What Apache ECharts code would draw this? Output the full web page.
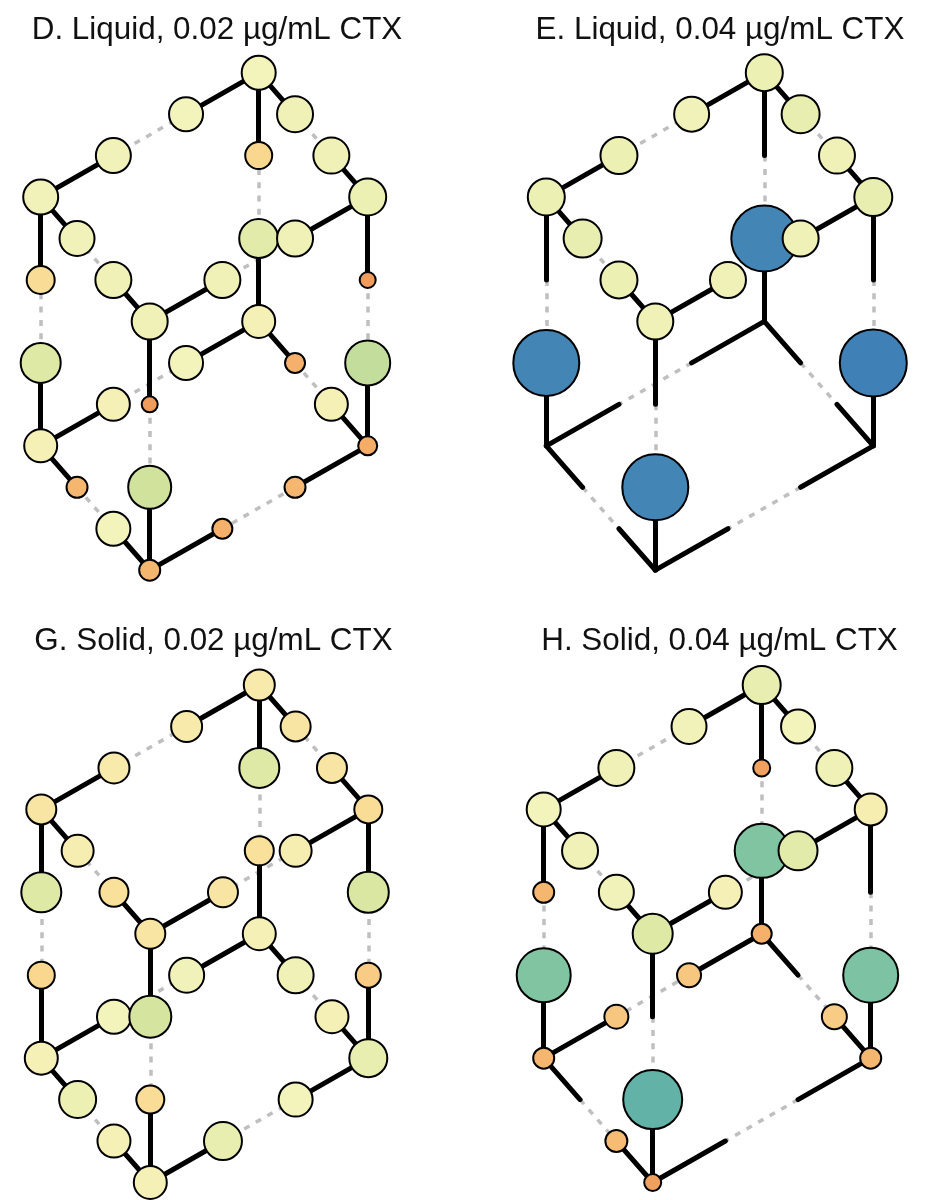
<!DOCTYPE html>
<html>
<head>
<meta charset="utf-8">
<style>
  html, body { margin: 0; padding: 0; background: #fff; }
  #chart { width: 933px; height: 1200px; }
</style>
<script src="https://cdn.jsdelivr.net/npm/echarts@6/dist/echarts.min.js"></script>
</head>
<body>
<div id="chart"></div>
<script>
// lattice position of the 32 genotypes, same for all four panels
var nodeCol = [6,4,7,6,2,8,0,9,1,6,7,0,2,5,9,3,6,0,4,7,9,2,3,8,0,9,1,3,7,2,5,3];
var nodeRow = [0,1,1,2,2,2,3,3,4,4,4,5,5,5,5,6,6,7,7,7,7,8,8,8,9,9,10,10,10,11,11,12];

// each cube edge runs through two genotypes: corner - a - b - corner
// the outer steps are solid, the middle one is dashed
var solidEdges = [
  [0,1],[4,6],[0,2],[5,7],[0,3],[9,16],[6,8],[12,15],[7,10],[13,15],
  [6,11],[17,24],[7,14],[20,25],[15,22],[27,31],[16,18],[21,24],
  [16,19],[23,25],[24,26],[29,31],[25,28],[30,31]
];
var dashedEdges = [
  [1,4],[2,5],[3,9],[8,12],[10,13],[11,17],[14,20],[22,27],
  [18,21],[19,23],[26,29],[28,30]
];

// fitness readings per genotype (same order as nodeCol), null = no growth
var fitnessD = [34,34,36,27,35,36,35,37,35,39,36,28,36,36,16,36,33,40,34,20,45,33,16,33,33,19,21,43,21,34,20,21];
var fitnessE = [37,35,38,null,37,36,37,38,38,66,36,null,37,36,null,36,null,66,null,null,67,null,null,null,null,null,null,66,null,null,null,null];
var fitnessG = [31,31,30,40,31,30,30,28,32,29,32,40,29,30,41,30,33,27,35,36,25,34,42,33,33,38,37,28,34,33,38,33];
var fitnessH = [38,35,34,17,36,36,34,32,36,54,39,21,35,33,null,40,20,54,24,null,55,24,null,25,21,21,null,59,null,22,null,17];

var panelTitles = ['D. Liquid, 0.02 µg/mL CTX','E. Liquid, 0.04 µg/mL CTX','G. Solid, 0.02 µg/mL CTX','H. Solid, 0.04 µg/mL CTX'];
var panelValues = [fitnessD,fitnessE,fitnessG,fitnessH];

var fitnessColors = ['#EF9C5C','#F4AC66','#F6BC74','#F8CC84','#F9DC95','#F8EAAA','#F3F3BC','#EDF0B3','#DEE9A6',
  '#D0E29C','#BCDA9C','#A4D09E','#8CC7A1','#7CC2A3','#68B9A4','#58A5AC','#4A90B2','#3F80B6'];

// grid boxes and title anchors in px (title box has 5px padding)
var gridBox = [
  {left:40.7, top:72.7, titleX:212, titleY:10},
  {left:546.3, top:72.7, titleX:715, titleY:10},
  {left:41.3, top:685, titleX:208.5, titleY:620.5},
  {left:543.7, top:685, titleX:714.5, titleY:620.5}
];

function edgeLines(edges){
  return edges.map(function(e){
    return {coords:[[nodeCol[e[0]],nodeRow[e[0]]],[nodeCol[e[1]],nodeRow[e[1]]]]};
  });
}

var titles = [], grids = [], xAxes = [], yAxes = [], series = [], nodeSeries = [];
gridBox.forEach(function(b,p){
  titles.push({
    text: panelTitles[p], left: b.titleX, top: b.titleY, textAlign:'center',
    textStyle:{fontFamily:'Liberation Sans', fontSize:31.4, fontWeight:'normal', color:'#111'}
  });
  grids.push({left:b.left, top:b.top, width:327, height:497.5, show:false});
  xAxes.push({type:'value', gridIndex:p, min:0, max:9, show:false});
  yAxes.push({type:'value', gridIndex:p, min:0, max:12, inverse:true, show:false});

  series.push({
    type:'lines', coordinateSystem:'cartesian2d', xAxisIndex:p, yAxisIndex:p, z:1, silent:true,
    lineStyle:{color:'#BFBFBF', width:3.5, type:[6,7.3], opacity:1},
    data: edgeLines(dashedEdges)
  });
  series.push({
    type:'lines', coordinateSystem:'cartesian2d', xAxisIndex:p, yAxisIndex:p, z:2, silent:true,
    lineStyle:{color:'#000', width:5, cap:'round', opacity:1},
    data: edgeLines(solidEdges)
  });

  var pts = [];
  panelValues[p].forEach(function(v,i){
    if(v !== null) pts.push([nodeCol[i],nodeRow[i],v]);
  });
  nodeSeries.push(series.length);
  series.push({
    type:'scatter', xAxisIndex:p, yAxisIndex:p, z:3, clip:false, silent:true,
    itemStyle:{borderColor:'#000', borderWidth:2, opacity:1},
    data: pts
  });
});

var myChart = echarts.init(document.getElementById('chart'));
myChart.setOption({
  animation:false,
  backgroundColor:'#fff',
  title:titles,
  grid:grids,
  xAxis:xAxes,
  yAxis:yAxes,
  visualMap:{
    show:false, type:'continuous', seriesIndex:nodeSeries, dimension:2, min:16, max:67,
    inRange:{color:fitnessColors, symbolSize:[16,67]}
  },
  series:series
});
</script>
</body>
</html>
